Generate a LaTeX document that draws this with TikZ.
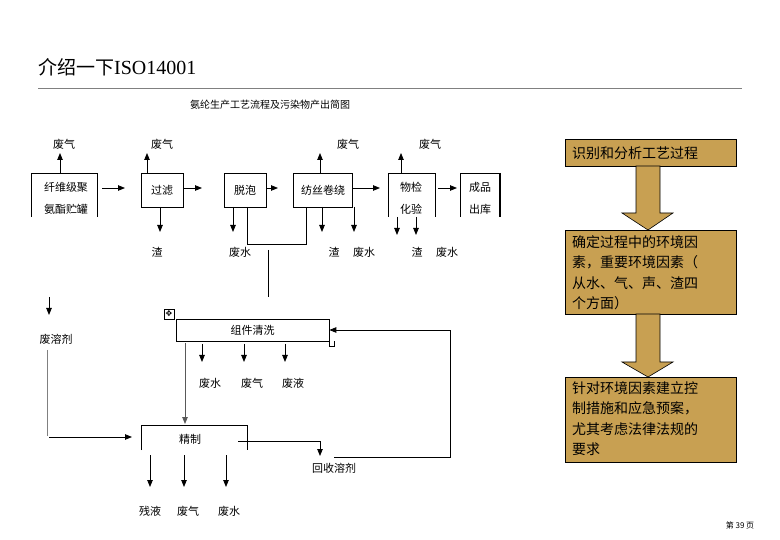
\documentclass[tikz,border=0pt]{standalone}
\usepackage{fontspec}
\setmainfont{Noto Sans CJK SC}
\newfontfamily\dejavu{DejaVu Sans}
\newfontfamily\lserif{Liberation Serif}
\usetikzlibrary{arrows.meta}
\definecolor{tan}{HTML}{C8A052}
\begin{document}
\begin{tikzpicture}[x=1pt,y=-1pt,
  lab/.style={inner sep=0pt,font=\fontsize{11}{12}\selectfont},
  arr/.style={-{Triangle[length=7pt,width=5.5pt]},line width=0.8pt},
  ln/.style={line width=0.7pt},
  tanbox/.style={draw=black,fill=tan,line width=0.6pt},
  rtext/.style={inner sep=0pt,anchor=north west,align=left,font=\fontsize{14}{20.5}\selectfont}]
\useasboundingbox (0,0) rectangle (780,540);
\node[inner sep=0pt,anchor=west,font=\fontsize{19}{20}\selectfont] (title) at (38,67) {介绍一下{\lserif\fontsize{20}{20}\selectfont ISO14001}};
\draw[line width=0.5pt,gray] (38,88) -- (742,88);
\node[lab,font=\fontsize{10}{11}\selectfont] (sub) at (270,105) {氨纶生产工艺流程及污染物产出简图};
% top boxes
\draw[ln] (31,217) -- (31,173) -- (97,173) -- (97,217);
\node[lab] (b1a) at (66,187) {纤维级聚};
\node[lab] (b1b) at (66,209) {氨酯贮罐};
\node[draw,ln,minimum width=42pt,minimum height=34pt,inner sep=0pt,font=\fontsize{11}{12}\selectfont] (b2) at (162,190) {过滤};
\node[draw,ln,minimum width=42pt,minimum height=34pt,inner sep=0pt,font=\fontsize{11}{12}\selectfont] (b3) at (245,190) {脱泡};
\node[draw,ln,minimum width=59pt,minimum height=34pt,inner sep=0pt,font=\fontsize{11}{12}\selectfont] (b4) at (323,190) {纺丝卷绕};
\draw[ln] (388,217) -- (388,173) -- (435,173) -- (435,217);
\node[lab] (b5a) at (411,187) {物检};
\node[lab] (b5b) at (411,209) {化验};
\draw[ln] (460,217) -- (460,173) -- (500,173);
\draw[line width=1.5pt] (500,173) -- (500,217);
\node[lab] (b6a) at (480,187) {成品};
\node[lab] (b6b) at (480,209) {出库};
% horizontal arrows
\coordinate (h1s) at (102,188); \coordinate (h1e) at (125,188);
\draw[arr] (h1s) -- (h1e);
\draw[arr] (b2.east |- 0,188) -- (202,188);
\draw[arr] (b3.east |- 0,188) -- (278,188);
\draw[arr] (b4.east |- 0,188) -- (380,188);
\coordinate (h5s) at (438,188); \coordinate (h5e) at (457,188);
\draw[arr] (h5s) -- (h5e);
% top gas labels
\node[lab] (g1) at (64,144) {废气};
\node[lab] (g2) at (162,144) {废气};
\node[lab] (g3) at (348,144) {废气};
\node[lab] (g4) at (430,144) {废气};
\draw[arr] (60,173) -- (60,153);
\draw[arr] (147,173) -- (147,153);
\draw[arr] (320,173) -- (320,153);
\draw[arr] (401,173) -- (401,153);
% down arrows
\draw[arr] (160,207) -- (160,232);
\draw[arr] (233,207) -- (233,232);
\draw[arr] (322,207) -- (322,232);
\draw[arr] (354,207) -- (354,232);
\draw[arr] (397,217) -- (397,235);
\draw[arr] (416,217) -- (416,235);
\draw[ln] (247,207) -- (247,244) -- (306,244) -- (306,207);
\draw[ln] (268,250) -- (268,297);
\node[lab] (z1) at (157,252) {渣};
\node[lab] (w1) at (240,252) {废水};
\node[lab] (z2) at (334,252) {渣};
\node[lab] (w2) at (364,252) {废水};
\node[lab] (z3) at (417,252) {渣};
\node[lab] (w3) at (447,252) {废水};
% waste solvent
\draw[arr] (49,297) -- (49,315);
\node[lab] (fs) at (56,339) {废溶剂};
\draw[line width=0.9pt,gray] (47,350) -- (47,436);
% cleaning box
\node[draw,ln,minimum width=153pt,minimum height=22pt,inner sep=0pt,font=\fontsize{11}{12}\selectfont] (cl) at (252.5,330) {组件清洗};
\node[draw,line width=0.5pt,minimum size=10pt,inner sep=0pt,font=\dejavu\fontsize{8}{8}\selectfont] (mv) at (169,314) {✥};
\draw[line width=0.5pt] (329,341) -- (329,346) -- (334,346) -- (334,341);
\draw[arr] (202,344) -- (202,362);
\draw[arr] (244,344) -- (244,362);
\draw[arr] (285,344) -- (285,362);
\node[lab] (c1) at (210,383) {废水};
\node[lab] (c2) at (252,383) {废气};
\node[lab] (c3) at (293,383) {废液};
\draw[arr,gray!70!black] (185,343) -- (185,424);
% refining
\draw[ln] (141,450) -- (141,425) -- (247,425) -- (247,450);
\node[lab] (jz) at (190,439) {精制};
\draw[arr] (49,437) -- (132,437);
\draw[ln] (238,441) -- (320,441);
\draw[arr] (320,441) -- (320,456);
\node[lab] (hs) at (334,468) {回收溶剂};
\coordinate (rt) at (450,330);
\draw[ln] (334,457) -- (450,457) -- (rt);
\draw[arr] (rt) -- (cl.east);
\draw[arr] (150,455) -- (150,487);
\draw[arr] (184,455) -- (184,487);
\draw[arr] (226,455) -- (226,487);
\node[lab] (r1) at (150,511) {残液};
\node[lab] (r2) at (188,511) {废气};
\node[lab] (r3) at (229,511) {废水};
% right flow
\draw[tanbox] (565,139) rectangle (736,166);
\node[rtext,anchor=west] (t1) at (572,153) {识别和分析工艺过程};
\draw[tanbox] (636,166) -- (660,166) -- (660,213) -- (673,213) -- (648,230) -- (622,213) -- (636,213) -- cycle;
\draw[tanbox] (565,230) rectangle (736,314);
\node[rtext] (t2) at (572,235) {确定过程中的环境因\\素，重要环境因素（\\从水、气、声、渣四\\个方面）};
\draw[tanbox] (636,314) -- (660,314) -- (660,362) -- (673,362) -- (648,377) -- (622,362) -- (636,362) -- cycle;
\draw[tanbox] (565,377) rectangle (736,462);
\node[rtext] (t3) at (572,381) {针对环境因素建立控\\制措施和应急预案，\\尤其考虑法律法规的\\要求};
\node[lab,font=\fontsize{8}{9}\selectfont] (pg) at (740,525) {第 39 页};
\end{tikzpicture}
\end{document}
